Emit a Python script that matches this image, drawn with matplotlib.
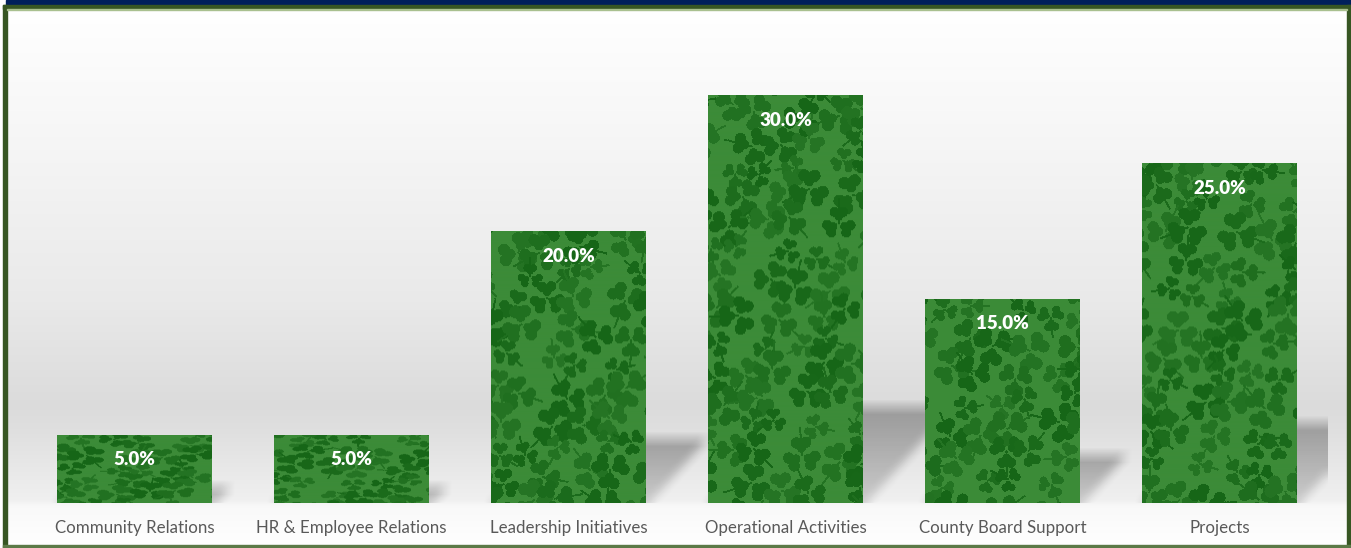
import numpy as np
import matplotlib
matplotlib.use("Agg")
import matplotlib.pyplot as plt
from matplotlib.patches import Rectangle

# chart data
categories = ["Community Relations", "HR & Employee Relations", "Leadership Initiatives",
              "Operational Activities", "County Board Support", "Projects"]
shares = [5.0, 5.0, 20.0, 30.0, 15.0, 25.0]

W, H = 1351, 548
DPI = 100
plt.rcParams['font.family'] = ['Lato', 'DejaVu Sans']

BASE = np.array([0x3c, 0x8b, 0x38]) / 255
DARK = np.array([0x16, 0x66, 0x17]) / 255


def blur(a, r):
    k = np.ones(2 * r + 1) / (2 * r + 1)
    a = np.apply_along_axis(lambda v: np.convolve(np.pad(v, r, mode='edge'), k, 'valid'), 0, a)
    a = np.apply_along_axis(lambda v: np.convolve(np.pad(v, r, mode='edge'), k, 'valid'), 1, a)
    return a


def clover_texture(nx, ny, seed):
    # shamrock wallpaper, drawn on a pixel grid
    yy, xx = np.mgrid[0:ny, 0:nx].astype(float)
    img = np.ones((ny, nx, 3)) * BASE
    step = 36.0
    n = 0
    for row in range(int(ny / (step * 0.8)) + 3):
        for col in range(-1, int(nx / step) + 2):
            n += 1
            t = n * 1.618 + seed * 7.3
            cx = col * step + (row % 2) * step / 2 + 9 * np.sin(t * 12.99)
            cy = (row - 0.5) * step * 0.8 + 8 * np.cos(t * 7.13)
            rot = (t * 137.5) % 360 * np.pi / 180
            r = 10.0 + 2.5 * np.sin(t * 3.7)
            mask = np.zeros((ny, nx), bool)
            for k in range(3):
                a = rot + k * 2 * np.pi / 3
                ca, sa = np.cos(a), np.sin(a)
                pa, pb = np.cos(a + np.pi / 2), np.sin(a + np.pi / 2)
                # heart-shaped leaf: two outer lobes and an inner point
                for side in (-1, 1):
                    px = cx + 1.1 * r * ca + side * 0.42 * r * pa
                    py = cy + 1.1 * r * sa + side * 0.42 * r * pb
                    mask |= (xx - px) ** 2 + (yy - py) ** 2 <= (0.5 * r) ** 2
                mx, my = cx + 0.62 * r * ca, cy + 0.62 * r * sa
                mask |= (xx - mx) ** 2 + (yy - my) ** 2 <= (0.4 * r) ** 2
            # stem
            st = rot + np.pi / 3
            for s in np.linspace(0, 2.4 * r, 18):
                mask |= (xx - (cx - s * np.cos(st))) ** 2 + (yy - (cy - s * np.sin(st))) ** 2 <= 1.2
            shade = 0.8 + 0.2 * np.sin(t * 5.1)
            img[mask] = BASE + (DARK - BASE) * shade
    return img


fig = plt.figure(figsize=(W / DPI, H / DPI), dpi=DPI)

# frame and background
bg = fig.add_axes([0, 0, 1, 1])
bg.set_xlim(0, W)
bg.set_ylim(H, 0)
bg.axis('off')
ys_stop = [9, 120, 300, 405, 430, 500, 506, 546]
gray_stop = [1.0, 0.97, 0.915, 0.86, 0.875, 0.94, 0.975, 1.0]
rows = np.interp(np.arange(9, 546) + 0.5, ys_stop, gray_stop)
grad = np.repeat(rows[:, None, None], 1340, axis=1).repeat(3, axis=2)
bg.imshow(grad, extent=(7, 1347, 546, 9), aspect='auto', interpolation='none', zorder=0)
bg.add_patch(Rectangle((6, 0), W - 6, 5, color='#001f5b', zorder=2))
bg.add_patch(Rectangle((3, 5), W - 3, 4, color='#375623', zorder=2))
bg.add_patch(Rectangle((3, 5), 4, H - 5, color='#375623', zorder=2))
bg.add_patch(Rectangle((1347, 5), 4, H - 5, color='#375623', zorder=2))
bg.add_patch(Rectangle((3, 545), W - 3, 3, color='#5c7a47', zorder=2))
bg.add_patch(Rectangle((7, 9), 1340, 1, color='#a9c08f', zorder=2))

# plot area
ax = fig.add_axes([26 / W, 45 / H, 1302 / W, 475 / H])
ax.patch.set_alpha(0)
x = np.arange(len(categories))
width = 0.714
ax.set_xlim(-0.5, len(categories) - 0.5)
ax.set_ylim(0, 35)
for s in ax.spines.values():
    s.set_visible(False)
ax.set_yticks([])
ax.set_xticks(x)
ax.set_xticklabels(categories, fontsize=12.2, color='#595959')
ax.tick_params(axis='x', length=0, pad=12.5)

# soft shadow cast behind-right of each bar
gx = np.linspace(-0.5, len(categories) - 0.5, 1302)
gy = np.linspace(35, 0, 475)
GX, GY = np.meshgrid(gx, gy)
shadow = np.zeros_like(GX)
k = 0.9 * (475 / 35) / (1302 / 6)
for xi, v in zip(x, shares):
    s = 0.235 * v
    inside = (GY >= 0) & (GY <= s) & (GX >= xi - width / 2 + k * GY) & (GX <= xi + width / 2 + k * GY + 0.02)
    shadow = np.maximum(shadow, inside * (0.15 + 0.15 * GY / max(s, 1e-6)))
shadow = blur(shadow, 7)
sh_img = np.zeros(shadow.shape + (4,))
sh_img[..., 3] = shadow
ax.imshow(sh_img, extent=(-0.5, len(categories) - 0.5, 0, 35), aspect='auto', zorder=1,
          interpolation='none')

bars = ax.bar(x, shares, width=width, color=BASE, zorder=2, linewidth=0)
fig.canvas.draw()
for i, b in enumerate(bars):
    (px0, py0), (px1, py1) = ax.transData.transform([(b.get_x(), 0), (b.get_x() + b.get_width(), b.get_height())])
    nx = int(round(px1 - px0))
    ny = max(int(round(py1 - py0)), 150)
    tex = clover_texture(nx, ny, i)
    ax.imshow(tex, extent=(b.get_x(), b.get_x() + b.get_width(), 0, b.get_height()),
              aspect='auto', zorder=3, clip_path=b, interpolation='antialiased')
    ax.annotate(f"{shares[i]:.1f}%", (b.get_x() + b.get_width() / 2, b.get_height()),
                xytext=(0, -11.5), textcoords='offset points', ha='center', va='top',
                color='white', fontsize=13.5, fontweight='heavy', zorder=4)

ax.set_xlim(-0.5, len(categories) - 0.5)
ax.set_ylim(0, 35)
fig.savefig("out.png", dpi=DPI)
